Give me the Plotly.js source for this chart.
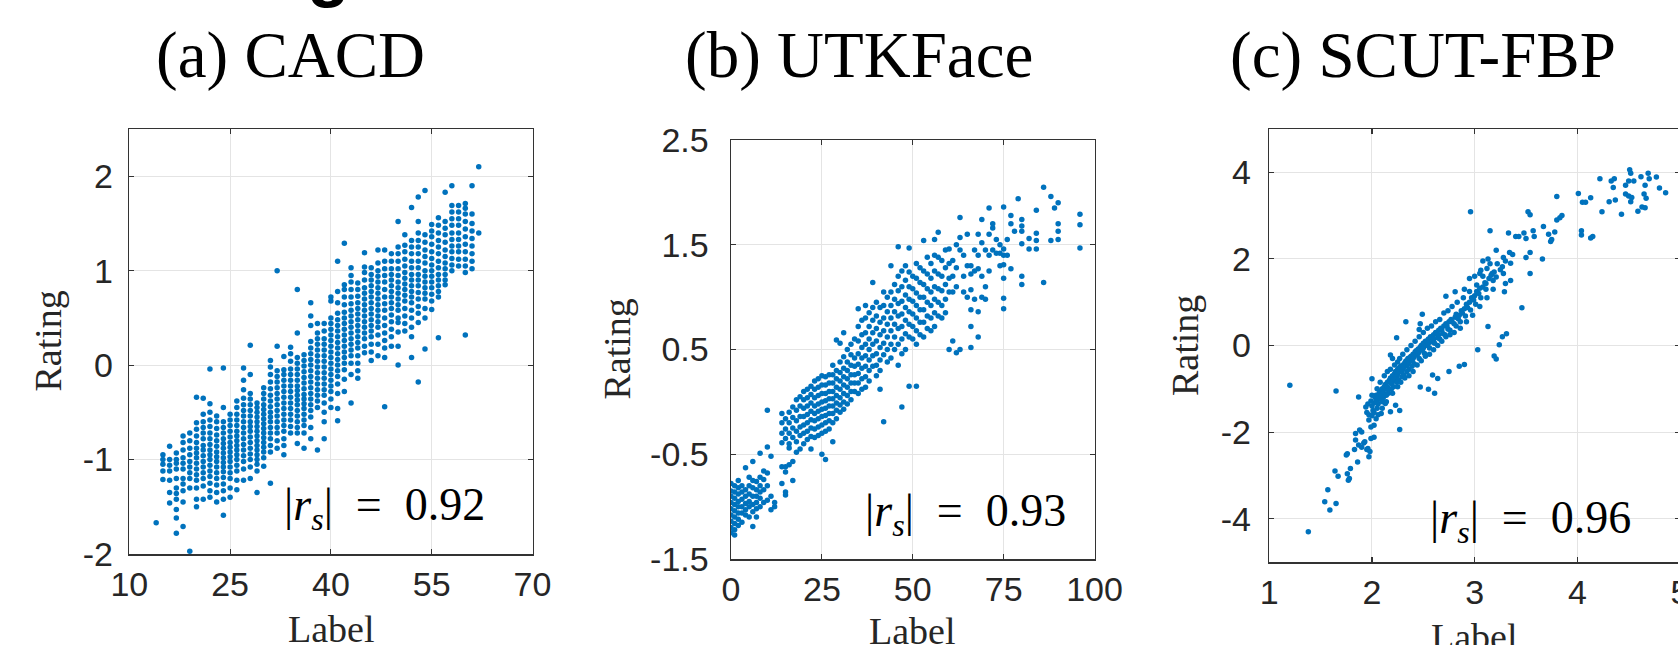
<!DOCTYPE html>
<html><head><meta charset="utf-8">
<script src="https://cdn.plot.ly/plotly-3.0.1.min.js"></script>
<style>html,body{margin:0;padding:0;overflow:hidden;background:#fff;width:1678px;height:645px}</style>
</head><body><div id="chart" style="width:1700px;height:645px"></div>
<script>
// ---------- DATA ----------
const titles = ['(a) CACD', '(b) UTKFace', '(c) SCUT-FBP'];
const rsValues = ['0.92', '0.93', '0.96'];
const xTitle = 'Label';
const yTitle = 'Rating';

const cacdXTicks = [10, 25, 40, 55, 70];
const cacdYTicks = [-2, -1, 0, 1, 2];
const cacdYTickText = ['-2', '-1', '0', '1', '2'];
const utkXTicks = [0, 25, 50, 75, 100];
const utkYTicks = [-1.5, -0.5, 0.5, 1.5, 2.5];
const utkYTickText = ['-1.5', '-0.5', '0.5', '1.5', '2.5'];
const scutXTicks = [1, 2, 3, 4, 5];
const scutYTicks = [-4, -2, 0, 2, 4];
const scutYTickText = ['-4', '-2', '0', '2', '4'];

const cacdAges = [14,15,16,17,18,19,20,21,22,23,24,25,26,27,28,29,30,31,32,33,34,35,36,37,38,39,40,41,42,43,44,45,46,47,48,49,50,51,52,53,54,55,56,57,58,59,60,61,62];
const cacdRatings = [
 [-1.67],
 [-0.95,-1.0,-1.05,-1.12,-1.21],
 [-0.86,-1.0,-1.06,-1.12,-1.22,-1.35,-1.46],
 [-0.93,-1.0,-1.04,-1.1,-1.2,-1.3,-1.36,-1.42,-1.53,-1.62,-1.78],
 [-0.75,-0.82,-0.9,-0.98,-1.04,-1.1,-1.2,-1.26,-1.33,-1.45,-1.71],
 [-0.72,-0.8,-0.88,-0.95,-1.02,-1.08,-1.14,-1.2,-1.3,-1.97],
 [-0.34,-0.61,-0.68,-0.75,-0.82,-0.88,-0.93,-0.98,-1.04,-1.1,-1.16,-1.22,-1.3,-1.42,-1.5],
 [-0.35,-0.52,-0.6,-0.66,-0.72,-0.78,-0.85,-0.9,-0.96,-1.02,-1.08,-1.14,-1.2,-1.28,-1.42],
 [-0.04,-0.41,-0.5,-0.58,-0.65,-0.72,-0.78,-0.84,-0.9,-0.95,-1.0,-1.06,-1.12,-1.18,-1.25,-1.33,-1.4],
 [-0.54,-0.6,-0.67,-0.74,-0.8,-0.86,-0.92,-0.97,-1.02,-1.08,-1.14,-1.2,-1.27,-1.35,-1.45],
 [-0.03,-0.45,-0.6,-0.66,-0.72,-0.78,-0.83,-0.88,-0.93,-0.98,-1.03,-1.08,-1.13,-1.19,-1.26,-1.33,-1.42,-1.59],
 [-0.52,-0.58,-0.64,-0.7,-0.76,-0.82,-0.87,-0.92,-0.97,-1.02,-1.08,-1.14,-1.2,-1.3,-1.4],
 [-0.38,-0.45,-0.52,-0.58,-0.64,-0.7,-0.75,-0.8,-0.85,-0.9,-0.95,-1.0,-1.06,-1.12,-1.22,-1.32],
 [-0.03,-0.16,-0.26,-0.35,-0.42,-0.48,-0.54,-0.6,-0.66,-0.72,-0.78,-0.84,-0.9,-0.96,-1.02,-1.1,-1.22],
 [0.21,-0.1,-0.3,-0.36,-0.42,-0.48,-0.54,-0.6,-0.65,-0.7,-0.76,-0.82,-0.88,-0.94,-1.0,-1.08,-1.2],
 [-0.4,-0.45,-0.5,-0.55,-0.6,-0.65,-0.7,-0.75,-0.8,-0.85,-0.9,-0.95,-1.0,-1.05,-1.12,-1.35],
 [-0.24,-0.3,-0.36,-0.42,-0.47,-0.52,-0.57,-0.62,-0.67,-0.72,-0.77,-0.82,-0.87,-0.92,-0.98,-1.07],
 [0.05,-0.02,-0.1,-0.18,-0.25,-0.32,-0.38,-0.44,-0.5,-0.55,-0.6,-0.66,-0.72,-0.78,-0.85,-0.92,-1.25],
 [1.0,0.2,-0.06,-0.12,-0.18,-0.24,-0.3,-0.36,-0.42,-0.48,-0.54,-0.6,-0.66,-0.72,-0.8,-0.88],
 [0.09,-0.05,-0.1,-0.16,-0.22,-0.28,-0.34,-0.4,-0.46,-0.52,-0.58,-0.64,-0.7,-0.78,-0.85,-0.95],
 [0.19,0.12,0.04,-0.04,-0.1,-0.16,-0.22,-0.28,-0.34,-0.4,-0.46,-0.52,-0.58,-0.65,-0.72],
 [0.8,0.34,0.08,0.02,-0.04,-0.1,-0.16,-0.22,-0.27,-0.32,-0.37,-0.42,-0.48,-0.54,-0.6,-0.66,-0.72,-0.83],
 [0.11,0.05,-0.01,-0.07,-0.13,-0.19,-0.25,-0.31,-0.36,-0.41,-0.46,-0.52,-0.58,-0.64,-0.72,-0.88],
 [0.66,0.52,0.42,0.25,0.18,0.12,0.06,0.0,-0.06,-0.12,-0.18,-0.24,-0.3,-0.36,-0.42,-0.48,-0.55,-0.66,-0.78],
 [0.44,0.34,0.28,0.22,0.16,0.1,0.04,-0.02,-0.08,-0.14,-0.2,-0.26,-0.32,-0.38,-0.45,-0.9],
 [0.44,0.36,0.28,0.22,0.16,0.1,0.04,-0.02,-0.08,-0.14,-0.2,-0.26,-0.32,-0.4,-0.5,-0.6,-0.78],
 [0.72,0.68,0.5,0.44,0.38,0.32,0.26,0.2,0.14,0.08,0.02,-0.04,-0.1,-0.16,-0.22,-0.28,-0.36,-0.45],
 [1.1,0.78,0.66,0.55,0.48,0.42,0.36,0.3,0.24,0.18,0.12,0.06,0.0,-0.06,-0.12,-0.2,-0.3,-0.46,-0.59],
 [1.29,0.85,0.8,0.72,0.64,0.56,0.5,0.44,0.38,0.32,0.26,0.2,0.14,0.08,0.02,-0.05,-0.15,-0.28],
 [1.03,0.95,0.88,0.8,0.72,0.65,0.58,0.52,0.46,0.4,0.34,0.28,0.22,0.16,0.1,0.02,-0.1,-0.4],
 [0.87,0.8,0.73,0.66,0.6,0.54,0.48,0.42,0.36,0.3,0.24,0.18,0.1,0.02,-0.06,-0.14],
 [1.19,1.04,0.98,0.9,0.82,0.76,0.7,0.64,0.58,0.52,0.46,0.4,0.34,0.28,0.2,0.13],
 [1.03,0.96,0.9,0.84,0.78,0.72,0.66,0.6,0.54,0.48,0.42,0.36,0.3,0.22,0.14,0.05],
 [1.22,1.08,1.0,0.94,0.88,0.82,0.76,0.7,0.64,0.58,0.52,0.46,0.4,0.32,0.22,0.1],
 [1.22,1.1,1.02,0.95,0.88,0.8,0.72,0.65,0.58,0.5,0.42,0.34,0.26,0.18,0.08,-0.44],
 [1.18,1.1,1.02,0.96,0.9,0.84,0.78,0.72,0.66,0.6,0.53,0.46,0.38,0.3,0.2],
 [1.52,1.25,1.18,1.1,1.02,0.95,0.88,0.82,0.76,0.7,0.64,0.58,0.5,0.45,0.35,0.2,0.0],
 [1.38,1.27,1.2,1.12,1.05,0.98,0.92,0.86,0.8,0.74,0.68,0.6,0.52,0.44,0.36],
 [1.67,1.32,1.25,1.18,1.1,1.03,0.96,0.9,0.84,0.78,0.72,0.66,0.58,0.5,0.4,0.3,0.08],
 [1.78,1.52,1.4,1.32,1.25,1.18,1.1,1.03,0.96,0.9,0.84,0.77,0.7,0.62,0.55,0.45,-0.18],
 [1.85,1.38,1.3,1.22,1.15,1.08,1.0,0.94,0.88,0.82,0.76,0.7,0.6,0.5,0.17],
 [1.49,1.42,1.36,1.28,1.2,1.13,1.06,1.0,0.94,0.88,0.82,0.75,0.68,0.59],
 [1.56,1.48,1.4,1.32,1.25,1.18,1.1,1.03,0.96,0.9,0.84,0.78,0.72,0.29],
 [1.83,1.52,1.45,1.38,1.3,1.22,1.15,1.08,1.02,0.96,0.9,0.85],
 [1.9,1.69,1.62,1.55,1.48,1.4,1.33,1.26,1.2,1.13,1.06,1.0],
 [1.69,1.62,1.55,1.48,1.4,1.33,1.26,1.2,1.12,1.05],
 [1.71,1.66,1.6,1.52,1.44,1.36,1.28,1.2,1.12,1.05,0.98,0.32],
 [1.9,1.6,1.5,1.42,1.34,1.26,1.18,1.1,1.02],
 [2.1,1.4]
];

const utkAges = [0,1,2,3,4,5,6,7,8,9,10,11,12,14,15,16,17,18,19,20,21,22,23,24,25,26,27,28,29,30,31,32,33,34,35,36,37,38,39,40,41,42,43,44,45,46,47,48,49,50,51,52,53,54,55,56,57,58,59,60,61,62,63,64,65,66,67,68,69,70,71,72,73,74,75,76,77,78,79,80,82,84,86,88,89,90,96];
const utkRatings = [
 [-0.78,-0.85,-0.9,-0.96,-1.02,-1.08,-1.14,-1.2,-1.25],
 [-0.8,-0.86,-0.92,-0.98,-1.04,-1.1,-1.16,-1.22,-1.27],
 [-0.75,-0.82,-0.88,-0.95,-1.0,-1.06,-1.12,-1.18],
 [-0.8,-0.86,-0.93,-1.0,-1.06,-1.15],
 [-0.63,-0.84,-0.9,-0.97,-1.03,-1.08],
 [-0.72,-0.8,-0.88,-0.95,-1.0,-1.1],
 [-0.57,-0.75,-0.82,-0.9,-0.98,-1.05,-1.19],
 [-0.76,-0.84,-0.9,-0.96,-1.02,-1.1],
 [-0.49,-0.72,-0.8,-0.86,-0.92,-1.0],
 [-0.66,-0.74,-0.84,-0.96],
 [-0.08,-0.43,-0.68,-0.8,-0.94],
 [-0.52,-0.9,-1.03],
 [-0.96,-1.0],
 [-0.11,-0.2,-0.3,-0.39,-0.62,-0.78],
 [-0.16,-0.26,-0.35,-0.62,-0.67,-0.86,-0.89],
 [-0.1,-0.2,-0.3,-0.4,-0.44,-0.6],
 [-0.05,-0.15,-0.25,-0.34,-0.57,-0.75],
 [0.02,-0.08,-0.18,-0.28,-0.38,-0.48],
 [0.05,-0.04,-0.14,-0.24,-0.32,-0.45],
 [0.1,0.02,-0.06,-0.14,-0.22,-0.3,-0.4],
 [0.12,0.04,-0.04,-0.12,-0.2,-0.28,-0.36],
 [0.15,0.07,-0.01,-0.09,-0.17,-0.25,-0.33,-0.45],
 [0.2,0.12,0.04,-0.04,-0.11,-0.18,-0.26,-0.34],
 [0.22,0.14,0.06,-0.02,-0.09,-0.16,-0.24,-0.32],
 [0.25,0.16,0.08,0.0,-0.07,-0.14,-0.22,-0.3,-0.5],
 [0.24,0.16,0.08,0.01,-0.06,-0.13,-0.2,-0.28,-0.55],
 [0.26,0.18,0.1,0.03,-0.04,-0.11,-0.18,-0.26],
 [0.35,0.26,0.18,0.1,0.03,-0.04,-0.11,-0.2,-0.38],
 [0.59,0.3,0.22,0.14,0.06,-0.01,-0.08,-0.16],
 [0.56,0.38,0.28,0.2,0.12,0.04,-0.03,-0.1],
 [0.66,0.43,0.32,0.24,0.16,0.08,0.0,-0.07],
 [0.5,0.38,0.3,0.22,0.14,0.06,-0.02],
 [0.55,0.45,0.35,0.26,0.18,0.1,0.02],
 [0.6,0.42,0.34,0.26,0.18,0.1],
 [0.89,0.72,0.58,0.46,0.36,0.27,0.18,0.08],
 [0.78,0.64,0.52,0.42,0.32,0.22,0.12],
 [0.92,0.8,0.66,0.55,0.44,0.34,0.24,0.14],
 [0.85,0.72,0.6,0.5,0.4,0.3,0.2],
 [1.14,0.9,0.78,0.66,0.55,0.44,0.34],
 [0.95,0.82,0.7,0.58,0.46,0.35,0.25],
 [0.9,0.76,0.64,0.52,0.4,0.3,0.12],
 [1.05,0.92,0.8,0.68,0.56,0.45,-0.19],
 [1.0,0.86,0.74,0.62,0.5,0.38],
 [1.3,1.05,0.92,0.8,0.68,0.55,0.42],
 [1.12,0.98,0.86,0.74,0.62,0.5],
 [1.48,1.2,1.06,0.94,0.82,0.7,0.55,0.35],
 [1.25,1.1,0.96,0.84,0.72,0.6,0.46,-0.05],
 [1.3,1.16,1.02,0.9,0.78,0.65,0.5],
 [1.47,1.24,1.1,0.98,0.86,0.74,0.62,0.15],
 [1.2,1.08,0.96,0.84,0.72,0.6],
 [1.32,1.18,1.04,0.92,0.8,0.68,0.55,0.15],
 [1.28,1.14,1.0,0.88,0.76,0.64],
 [1.54,1.25,1.12,1.0,0.88,0.76,0.62],
 [1.38,1.22,1.08,0.95,0.82,0.7],
 [1.32,1.18,1.05,0.92,0.8,0.68],
 [1.55,1.4,1.25,1.1,0.98,0.85,0.72],
 [1.62,1.38,1.22,1.08,0.95,0.82],
 [1.35,1.2,1.06,0.92,0.8],
 [1.45,1.28,1.12,0.98,0.85],
 [1.46,1.32,1.18,1.05,0.5],
 [1.35,1.2,1.05,0.58],
 [1.5,1.28,1.1,0.47],
 [1.76,1.57,1.45,0.5],
 [1.4,1.2,1.05],
 [1.6,1.3,1.0],
 [1.3,1.22,1.07,0.88,0.72,0.52],
 [1.45,1.25,0.98],
 [1.6,1.4,1.27,0.86,0.62],
 [1.74,1.52,1.2,1.0],
 [1.45,1.1,0.98],
 [1.85,1.6,1.4,1.25],
 [1.7,1.66,1.45],
 [1.55,1.42],
 [1.5,1.42,1.3],
 [1.86,1.46,1.4,1.31,1.18,0.99,0.89],
 [1.55,1.4],
 [1.78,1.7,1.27],
 [1.63],
 [1.94],
 [1.74,1.68,1.51,1.2,1.12,1.63],
 [1.46,1.56],
 [1.83,1.54,1.46,1.61],
 [2.05,1.14],
 [1.96,1.54],
 [1.85],
 [1.9,1.7,1.63,1.55],
 [1.79,1.69,1.47]
];

const scutPoints = [
 [1.2,-0.92],[1.65,-1.05],[1.87,-1.19],[2.0,-0.77],[2.18,-0.22],[2.24,0.18],[2.33,0.55],[2.49,0.72],[2.46,0.37],[2.47,0.5],
 [2.72,1.14],[2.81,1.24],[2.96,3.09],[3.15,2.65],[3.33,2.6],[3.40,2.52],[3.43,2.52],[3.48,2.6],[3.5,2.47],[3.52,3.09],
 [3.54,3.02],[3.57,2.65],[3.58,2.52],[3.67,2.75],[3.66,2.0],[3.54,1.66],[3.46,0.87],[3.21,2.2],[3.28,2.03],[3.34,2.15],
 [3.5,2.03],[3.54,2.15],[3.37,2.1],[3.35,1.9],[3.72,2.57],[3.75,2.45],[3.78,2.62],[3.74,2.4],[3.8,2.9],[3.83,2.95],
 [3.85,3.0],[3.8,3.44],[4.01,3.51],[4.05,3.31],[4.08,3.31],[4.13,3.41],[4.04,2.65],[4.04,2.55],[4.13,2.48],[4.15,2.52],
 [4.22,3.85],[4.24,3.09],[4.31,3.32],[4.33,3.8],[4.35,3.65],[4.36,3.85],[4.37,3.36],[4.43,3.03],[4.47,3.7],[4.5,3.8],
 [4.51,4.06],[4.52,3.98],[4.47,3.5],[4.5,3.45],[4.53,3.42],[4.52,3.32],[4.55,3.8],[4.59,3.1],[4.63,3.2],[4.66,3.18],
 [4.67,3.4],[4.62,3.9],[4.65,3.5],[4.66,3.7],[4.69,3.98],[4.7,3.85],[4.77,3.89],[4.8,3.64],[4.86,3.53],
 [3.03,-0.1],[3.13,0.44],[3.24,0.02],[3.27,0.2],[3.31,0.27],[3.19,-0.24],[3.21,-0.31],[2.85,-0.48],[2.9,-0.44],[2.75,-0.6],
 [2.64,-0.76],[2.59,-0.68],[2.55,-1.01],[2.61,-1.1],[2.47,-0.96],[2.2,-0.3],[2.25,-0.38],
 [3.22,1.89],[3.27,1.82],[3.29,1.24],[3.35,1.5],[3.28,1.66],[3.3,1.43],[3.05,1.66],[3.06,1.74],[3.12,1.78],[3.17,1.66],
 [3.11,1.43],[3.18,1.5],[3.15,1.89],[2.9,1.3],[2.95,1.55],[3.0,1.6],[3.08,1.95],[3.13,2.0],[3.25,1.75],[3.3,1.95],
 [1.38,-4.3],[1.54,-3.61],[1.59,-3.8],[1.57,-3.33],[1.65,-3.65],[1.64,-2.9],[1.67,-3.02],[1.76,-2.96],[1.77,-3.11],[1.78,-3.07],
 [1.79,-2.84],[1.76,-2.5],[1.75,-2.53],[1.86,-2.69],[1.97,-2.57],[1.84,-2.03],[1.84,-2.18],[1.88,-1.95],[1.9,-2.0],[1.83,-2.4],
 [1.87,-2.3],[1.9,-2.35],[1.93,-2.22],[1.96,-2.38],[1.99,-2.15],[2.02,-2.12],[2.27,-1.94],[1.95,-2.4],[1.92,-2.25],[1.98,-2.45],
 [1.94,-1.42],[1.97,-1.72],[2.04,-1.69],[2.09,-1.57],[2.18,-1.53],[2.23,-1.38],[2.27,-1.5],[2.13,-1.34],[1.99,-1.88],[2.02,-1.84],
 [1.95,-1.55],[1.96,-1.35],[1.97,-1.6],
 [1.99,-1.28],[2.0,-1.4],[2.01,-1.5],[2.02,-1.33],[2.03,-1.2],[2.0,-1.62],
 [2.04,-1.15],[2.05,-1.25],[2.06,-1.35],[2.05,-1.45],[2.07,-1.1],[2.06,-1.2],[2.04,-1.3],
 [2.08,-1.05],[2.09,-1.15],[2.1,-1.0],[2.11,-1.2],[2.1,-1.3],[2.12,-0.95],[2.11,-1.08],[2.09,-1.25],
 [2.13,-0.9],[2.14,-1.0],[2.15,-0.85],[2.16,-1.1],[2.15,-0.95],[2.17,-0.8],[2.16,-1.02],[2.14,-1.15],
 [2.18,-0.75],[2.19,-0.88],[2.2,-0.7],[2.21,-0.95],[2.2,-0.82],[2.22,-0.65],[2.21,-0.78],[2.19,-1.0],
 [2.23,-0.6],[2.24,-0.72],[2.25,-0.55],[2.26,-0.8],[2.25,-0.66],[2.27,-0.5],[2.26,-0.62],[2.24,-0.85],
 [2.28,-0.48],[2.29,-0.6],[2.3,-0.45],[2.31,-0.68],[2.3,-0.54],[2.32,-0.4],[2.31,-0.5],[2.29,-0.72],
 [2.33,-0.36],[2.34,-0.46],[2.35,-0.3],[2.36,-0.55],[2.35,-0.42],[2.37,-0.28],[2.36,-0.38],[2.34,-0.6],
 [2.38,-0.25],[2.39,-0.35],[2.4,-0.2],[2.41,-0.42],[2.4,-0.3],[2.42,-0.15],[2.41,-0.26],[2.39,-0.48],
 [2.43,-0.12],[2.44,-0.22],[2.45,-0.08],[2.46,-0.3],[2.45,-0.18],[2.47,-0.04],[2.46,-0.14],
 [2.48,0.0],[2.49,-0.1],[2.5,0.05],[2.51,-0.18],[2.5,-0.06],[2.52,0.1],[2.51,0.0],
 [2.53,0.1],[2.54,0.0],[2.55,0.15],[2.56,-0.06],[2.55,0.05],[2.57,0.2],
 [2.58,0.18],[2.59,0.08],[2.6,0.25],[2.61,0.05],[2.6,0.14],[2.62,0.3],
 [2.63,0.28],[2.64,0.18],[2.65,0.35],[2.66,0.15],[2.65,0.25],[2.67,0.4],
 [2.68,0.36],[2.69,0.28],[2.7,0.45],[2.71,0.25],[2.72,0.5],
 [2.73,0.45],[2.74,0.38],[2.75,0.55],[2.76,0.35],[2.77,0.6],
 [2.78,0.55],[2.8,0.5],[2.81,0.65],[2.82,0.45],[2.82,0.72],
 [2.84,0.62],[2.85,0.7],[2.86,0.55],[2.87,0.8],
 [2.88,0.75],[2.9,0.85],[2.91,0.68],[2.92,0.95],
 [2.93,0.88],[2.95,1.0],[2.96,0.82],[2.97,1.1],
 [2.99,1.05],[3.0,1.15],[3.01,0.95],[3.02,1.25],
 [3.04,1.2],[3.05,1.32],[3.06,1.1],
 [3.08,1.35],[3.1,1.45],[3.11,1.3],
 [3.14,1.55],[3.16,1.62],
 [3.19,1.7],[3.21,1.58],
 [2.12,-0.7],[2.15,-0.6],[2.18,-0.55],[2.2,-1.1],[2.22,-0.45],[2.25,-0.95],[2.27,-0.3],[2.28,-0.85],[2.3,-0.2],[2.32,-0.75],
 [2.34,-0.1],[2.36,-0.7],[2.38,0.0],[2.4,-0.6],[2.42,0.1],[2.44,-0.45],[2.46,0.2],[2.48,-0.35],[2.5,0.3],[2.52,-0.25],
 [2.54,0.4],[2.56,-0.2],[2.58,0.45],[2.6,-0.1],[2.62,0.55],[2.64,0.0],[2.66,0.6],[2.68,0.1],[2.7,0.75],[2.72,0.2],
 [2.74,0.8],[2.76,0.25],[2.78,0.9],[2.8,0.3],[2.83,1.0],[2.86,0.4],[2.89,1.1],[2.92,0.55],[2.95,1.25],[2.98,0.7],
 [3.02,1.4],[3.05,0.9],[3.08,1.6],[3.12,1.1],[3.18,1.3],[2.05,-1.0],[2.08,-0.85],[2.0,-1.15],[2.02,-1.55],[2.06,-1.6],
 [2.1,-1.45],[2.14,-1.3]
];

// ---------- LAYOUT HELPERS ----------
const W = 1700, H = 645;
const px = v => v / W;
const py = v => 1 - v / H;

function expand(keys, lists) {
  const xs = [], ys = [];
  keys.forEach((k, i) => lists[i].forEach(v => { xs.push(k); ys.push(v); }));
  return [xs, ys];
}
const [cx, cy] = expand(cacdAges, cacdRatings);
const [ux, uy] = expand(utkAges, utkRatings);
const sx = scutPoints.map(p => p[0]);
const sy = scutPoints.map(p => p[1]);

const marker = {size: 5.5, color: '#0072BD', line: {width: 0}};
const traces = [
  {type: 'scatter', mode: 'markers', x: cx, y: cy, xaxis: 'x', yaxis: 'y', marker},
  {type: 'scatter', mode: 'markers', x: ux, y: uy, xaxis: 'x2', yaxis: 'y2', marker},
  {type: 'scatter', mode: 'markers', x: sx, y: sy, xaxis: 'x3', yaxis: 'y3', marker}
];

const tickFont = {family: 'Liberation Sans, Arial, sans-serif', size: 34, color: '#262626'};
function ax(extra) {
  return Object.assign({
    showline: true, linecolor: '#333333', linewidth: 1.5, mirror: 'ticks',
    ticks: 'inside', ticklen: 5, tickwidth: 1.2, tickcolor: '#333333',
    showgrid: true, gridcolor: '#e4e4e4', gridwidth: 1, zeroline: false,
    tickfont: tickFont, tickmode: 'array', fixedrange: true
  }, extra);
}

const serif = 'Liberation Serif, Times New Roman, serif';
const annotations = [];
function ann(text, x, y, size, extra) {
  annotations.push(Object.assign({
    text, x: px(x), y: py(y), xref: 'paper', yref: 'paper', showarrow: false,
    xanchor: 'center', yanchor: 'middle', font: {family: serif, size, color: '#000'}
  }, extra || {}));
}
// fragment of a larger heading above, cut by the top edge (only its descender shows)
ann('g', 328, 10, 70, {yanchor: 'bottom', font: {family: 'Liberation Sans, Arial, sans-serif', size: 70, color: '#000', weight: 700}});
// panel titles
ann(titles[0], 290, 54.8, 65);
ann(titles[1], 859, 54.8, 65);
ann(titles[2], 1423, 54.8, 65);
// axis titles
const labFont = {family: serif, size: 38, color: '#262626'};
ann(xTitle, 331, 629, 38, {font: labFont});
ann(xTitle, 912.7, 631, 38, {font: labFont});
ann(xTitle, 1474.6, 637, 38, {font: labFont});
ann(yTitle, 47, 341.5, 38, {font: labFont, textangle: -90});
ann(yTitle, 616, 349.5, 38, {font: labFont, textangle: -90});
ann(yTitle, 1184.5, 345.5, 38, {font: labFont, textangle: -90});
// correlation annotations
const rsText = v => '|<i>r</i><sub><i>s</i></sub>|\u2002=\u2002' + v;
ann(rsText(rsValues[0]), 487, 508, 46, {xanchor: 'right'});
ann(rsText(rsValues[1]), 1068, 514, 46, {xanchor: 'right'});
ann(rsText(rsValues[2]), 1633, 521, 46, {xanchor: 'right'});

const layout = {
  width: W, height: H, margin: {l: 0, r: 0, t: 0, b: 0},
  paper_bgcolor: '#fff', plot_bgcolor: '#fff', showlegend: false,
  xaxis: ax({domain: [px(129.3), px(532.5)], range: [10, 70], tickvals: cacdXTicks, anchor: 'y'}),
  yaxis: ax({domain: [py(554), py(129)], range: [-2, 2.5], tickvals: cacdYTicks, ticktext: cacdYTickText, anchor: 'x', ticklabelstandoff: 8}),
  xaxis2: ax({domain: [px(731), px(1094.5)], range: [0, 100], tickvals: utkXTicks, anchor: 'y2'}),
  yaxis2: ax({domain: [py(559), py(140)], range: [-1.5, 2.5], tickvals: utkYTicks, ticktext: utkYTickText, anchor: 'x2', ticklabelstandoff: 14}),
  xaxis3: ax({domain: [px(1269.3), px(1680)], range: [1, 5], tickvals: scutXTicks, anchor: 'y3'}),
  yaxis3: ax({domain: [py(562), py(129)], range: [-5, 5], tickvals: scutYTicks, ticktext: scutYTickText, anchor: 'x3', ticklabelstandoff: 10}),
  annotations
};

Plotly.newPlot('chart', traces, layout, {displayModeBar: false, staticPlot: true});
</script></body></html>
